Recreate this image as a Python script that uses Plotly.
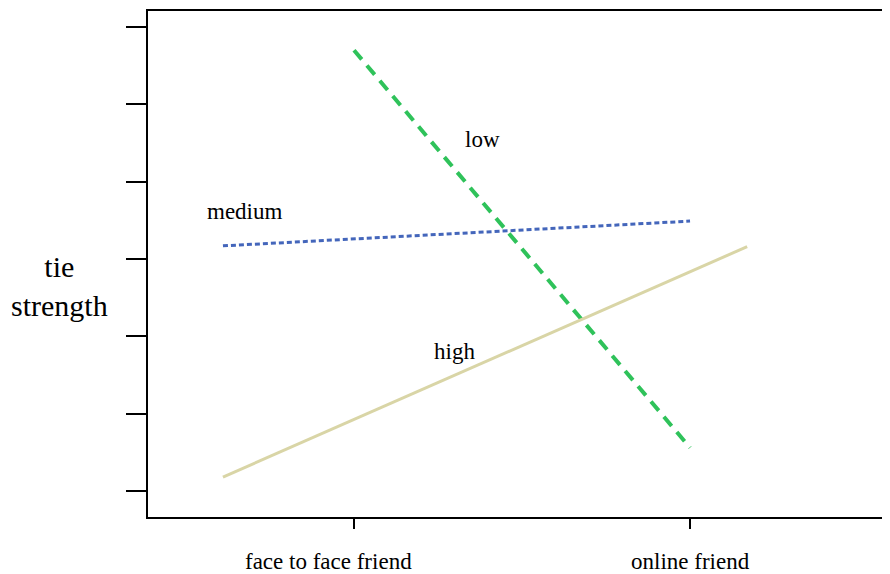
import plotly.graph_objects as go

# Data
categories = ["face to face friend", "online friend"]
category_pos = [0, 1]
label_pos = [-0.076, 1.0]

low_x = [0, 1]
low_y = [6.70, 1.56]
medium_x = [-0.39, 1]
medium_y = [4.17, 4.49]
high_x = [-0.39, 1.17]
high_y = [1.18, 4.16]

y_ticks = [1, 2, 3, 4, 5, 6, 7]

series_labels = ["low", "medium", "high"]
series_label_x = [0.381, -0.327, 0.298]
series_label_y = [5.55, 4.61, 2.81]

fig = go.Figure()
fig.add_trace(go.Scatter(x=low_x, y=low_y, mode="lines", name="low",
                         line=dict(color="#2fc25a", width=4, dash="12px,8px")))
fig.add_trace(go.Scatter(x=medium_x, y=medium_y, mode="lines", name="medium",
                         line=dict(color="#4466bb", width=3, dash="5px,3px")))
fig.add_trace(go.Scatter(x=high_x, y=high_y, mode="lines", name="high",
                         line=dict(color="#d9d5a6", width=3)))

font_family = "Liberation Serif, Times New Roman, serif"

for t, x, y in zip(series_labels, series_label_x, series_label_y):
    fig.add_annotation(x=x, y=y, xref="x", yref="y", text=t, showarrow=False,
                       xanchor="center", yanchor="middle",
                       font=dict(family=font_family, size=23, color="black"))

for t, x in zip(categories, label_pos):
    fig.add_annotation(x=x, y=-0.087, xref="x", yref="paper", text=t, showarrow=False,
                       xanchor="center", yanchor="middle",
                       font=dict(family=font_family, size=23, color="black"))

fig.add_annotation(x=-0.1186, y=0.4565, xref="paper", yref="paper",
                   text="tie<br>strength", showarrow=False, align="center",
                   xanchor="center", yanchor="middle",
                   font=dict(family=font_family, size=30, color="black"))

fig.update_layout(
    width=882, height=566,
    margin=dict(l=140, r=0, t=3, b=57),
    plot_bgcolor="white", paper_bgcolor="white",
    showlegend=False,
    xaxis=dict(range=[-0.613, 1.595], tickvals=category_pos, showticklabels=False,
               ticks="outside", ticklen=10, tickwidth=2, tickcolor="black",
               showline=True, linecolor="black", linewidth=2, mirror=True,
               showgrid=False, zeroline=False),
    yaxis=dict(range=[0.664, 7.207], tickvals=y_ticks, showticklabels=False,
               ticks="outside", ticklen=20, tickwidth=2, tickcolor="black",
               showline=True, linecolor="black", linewidth=2,
               showgrid=False, zeroline=False),
)

fig.write_html("out.html")
